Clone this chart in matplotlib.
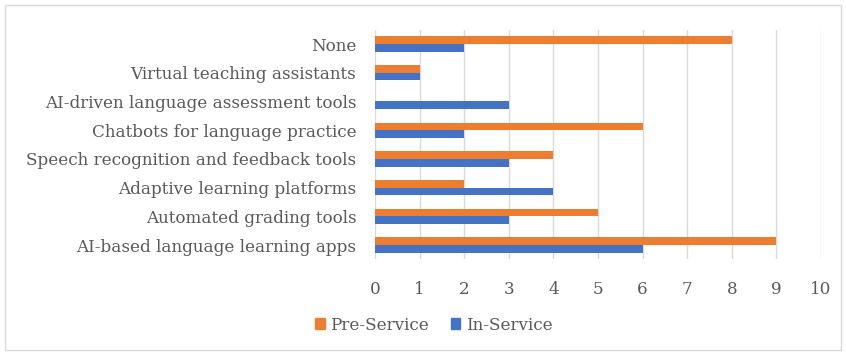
import matplotlib
matplotlib.use("Agg")
import matplotlib.pyplot as plt
from matplotlib.patches import Rectangle, Patch
import numpy as np

categories = [
    "AI-based language learning apps",
    "Automated grading tools",
    "Adaptive learning platforms",
    "Speech recognition and feedback tools",
    "Chatbots for language practice",
    "AI-driven language assessment tools",
    "Virtual teaching assistants",
    "None",
]
pre_service = [9, 5, 2, 4, 6, 0, 1, 8]
in_service = [6, 3, 4, 3, 2, 3, 1, 2]
x_ticks = list(range(0, 11))

ORANGE = "#ED7D31"
BLUE = "#4472C4"
TEXT = "#595959"
GRID = "#D9D9D9"

plt.rcParams["font.family"] = ["DejaVu Serif"]

fig = plt.figure(figsize=(8.46, 3.54), dpi=100)
fig.patches.append(Rectangle((0.006, 0.012), 0.988, 0.974, transform=fig.transFigure,
                             fill=False, edgecolor="#D9D9D9", linewidth=1.0))

ax = fig.add_axes([0.4433, 0.2672, 0.5271, 0.649])
y = np.arange(len(categories))
h = 0.265
ax.barh(y + h / 2, pre_service, height=h, color=ORANGE, label="Pre-Service", zorder=3)
ax.barh(y - h / 2, in_service, height=h, color=BLUE, label="In-Service", zorder=3)

ax.set_xlim(0, 10)
ax.set_ylim(-0.5, len(categories) - 0.5)
ax.set_xticks(x_ticks)
ax.set_yticks(y)
ax.set_yticklabels(categories)
ax.xaxis.grid(True, color=GRID, linewidth=1.0, zorder=0)
for s in ax.spines.values():
    s.set_visible(False)
ax.tick_params(axis="x", length=0, pad=15.5, labelsize=12.1, labelcolor=TEXT)
ax.tick_params(axis="y", length=0, pad=13.5, labelsize=12.1, labelcolor=TEXT)

handles = [Patch(color=ORANGE, label="Pre-Service"), Patch(color=BLUE, label="In-Service")]
fig.legend(handles=handles, loc="center", bbox_to_anchor=(434 / 846, 1 - 325 / 354),
           ncol=2, frameon=False, fontsize=12.1, labelcolor=TEXT,
           handlelength=0.55, handleheight=0.55, handletextpad=0.35, columnspacing=1.3)

fig.savefig("out.png", dpi=100, facecolor="white")
